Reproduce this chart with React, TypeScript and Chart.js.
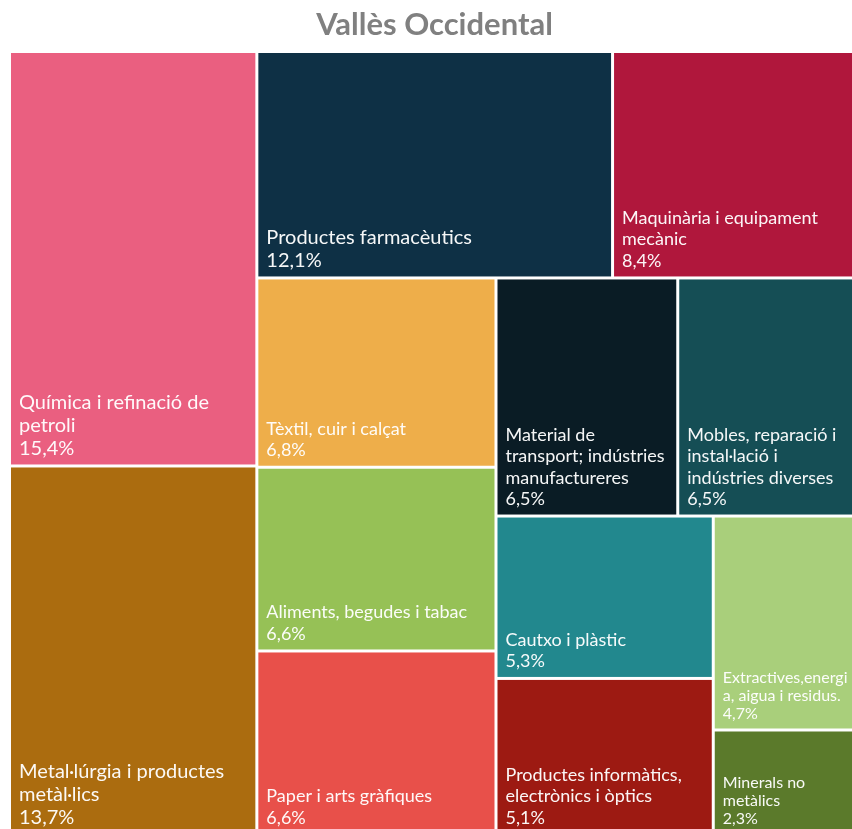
import React, { useEffect, useRef } from 'react';
import { Chart, registerables } from 'chart.js';

Chart.register(...registerables);

const chartTitle = 'Vallès Occidental';

const categories = [
  'Química i refinació de petroli',
  'Metal·lúrgia i productes metàl·lics',
  'Productes farmacèutics',
  'Maquinària i equipament mecànic',
  'Tèxtil, cuir i calçat',
  'Aliments, begudes i tabac',
  'Paper i arts gràfiques',
  'Material de transport; indústries manufactureres',
  'Mobles, reparació i instal·lació i indústries diverses',
  'Cautxo i plàstic',
  'Productes informàtics, electrònics i òptics',
  'Extractives,energia, aigua i residus.',
  'Minerals no metàlics',
];

const shares = [15.4, 13.7, 12.1, 8.4, 6.8, 6.6, 6.6, 6.5, 6.5, 5.3, 5.1, 4.7, 2.3];

const cellColors = [
  '#EA5F80',
  '#AB6C0F',
  '#0E3045',
  '#B0173C',
  '#EEAE4A',
  '#96C156',
  '#E8504A',
  '#0A1C25',
  '#154E55',
  '#22888E',
  '#9D1A12',
  '#A9CF7B',
  '#5B7A2B',
];

type Cell = { x: number; y: number; w: number; h: number };

// Squarified treemap layout with a target-ratio parameter
function squarify(values: number[], W: number, H: number, ratio: number): Cell[] {
  const total = values.reduce((a, b) => a + b, 0);
  const areas = values.map((v) => (v / total) * W * H);
  const out: Cell[] = new Array(values.length);
  let x = 0, y = 0, rw = W, rh = H;
  const worst = (arr: number[], L: number) => {
    const s = arr.reduce((a, b) => a + b, 0);
    const mx = Math.max(...arr), mn = Math.min(...arr);
    const f = L * L * ratio;
    return Math.max((f * mx) / (s * s), (s * s) / (f * mn));
  };
  let i = 0;
  while (i < areas.length) {
    const L = Math.min(rw, rh);
    let j = i + 1;
    let best = worst(areas.slice(i, j), L);
    while (j < areas.length) {
      const wv = worst(areas.slice(i, j + 1), L);
      if (wv <= best) {
        best = wv;
        j++;
      } else break;
    }
    const row = areas.slice(i, j);
    const s = row.reduce((a, b) => a + b, 0);
    if (rw >= rh) {
      const cw = s / rh;
      let yy = y;
      row.forEach((a, k) => {
        const hh = a / cw;
        out[i + k] = { x, y: yy, w: cw, h: hh };
        yy += hh;
      });
      x += cw;
      rw -= cw;
    } else {
      const ch = s / rw;
      let xx = x;
      row.forEach((a, k) => {
        const ww = a / ch;
        out[i + k] = { x: xx, y, w: ww, h: ch };
        xx += ww;
      });
      y += ch;
      rh -= ch;
    }
    i = j;
  }
  return out;
}

function wrapText(ctx: CanvasRenderingContext2D, text: string, maxW: number): string[] {
  const words = text.split(' ');
  const lines: string[] = [];
  let cur = '';
  for (const w of words) {
    const test = cur ? cur + ' ' + w : w;
    if (ctx.measureText(test).width <= maxW) {
      cur = test;
      continue;
    }
    if (cur) {
      lines.push(cur);
      cur = '';
    }
    if (ctx.measureText(w).width <= maxW) {
      cur = w;
    } else {
      let part = '';
      for (const ch of Array.from(w)) {
        if (ctx.measureText(part + ch).width <= maxW) part += ch;
        else {
          lines.push(part);
          part = ch;
        }
      }
      cur = part;
    }
  }
  if (cur) lines.push(cur);
  return lines;
}

const fmt = (v: number) => v.toFixed(1).replace('.', ',') + '%';

const treemapPlugin = {
  id: 'treemapCells',
  afterDatasetsDraw(chart: any) {
    const { ctx, chartArea } = chart;
    const xs = chart.scales.x;
    const ys = chart.scales.y;
    const W = chartArea.right - chartArea.left;
    const H = chartArea.bottom - chartArea.top;
    const cells = squarify(shares, W, H, 0.9);
    const gap = 1.5;
    ctx.save();
    cells.forEach((c, i) => {
      const left = xs.getPixelForValue(c.x / W);
      const right = xs.getPixelForValue((c.x + c.w) / W);
      const top = ys.getPixelForValue(c.y / H);
      const bottom = ys.getPixelForValue((c.y + c.h) / H);
      ctx.fillStyle = cellColors[i];
      ctx.fillRect(left + gap, top + gap, right - left - 2 * gap, bottom - top - 2 * gap);

      const bw = right - left - 2 * gap;
      const bh = bottom - top - 2 * gap;
      let fs = 18;
      let lh = 21.5;
      if (bw < 160) {
        fs = 16;
        lh = 18;
      } else if (bw * bh > 70000) {
        fs = 20;
        lh = 23;
      }
      ctx.font = `${fs}px Lato`;
      ctx.fillStyle = 'rgba(255,255,255,0.96)';
      ctx.textAlign = 'left';
      ctx.textBaseline = 'alphabetic';
      const lines = wrapText(ctx, categories[i], bw - 14);
      lines.push(fmt(shares[i]));
      const tx = left + gap + 8;
      let by = bottom - gap - 9.5;
      for (let k = lines.length - 1; k >= 0; k--) {
        ctx.fillText(lines[k], tx, by);
        by -= lh;
      }
    });
    ctx.restore();
  },
};

export default function App() {
  const ref = useRef<HTMLCanvasElement | null>(null);
  useEffect(() => {
    if (!ref.current) return;
    const chart = new Chart(ref.current, {
      type: 'scatter',
      data: { datasets: [{ data: [], pointRadius: 0 }] },
      options: {
        animation: false,
        responsive: false,
        maintainAspectRatio: false,
        layout: { padding: { left: 9.5, right: 10.5, top: 0, bottom: 10.3 } },
        scales: {
          x: { type: 'linear', min: 0, max: 1, display: false },
          y: { type: 'linear', min: 0, max: 1, reverse: true, display: false },
        },
        plugins: {
          legend: { display: false },
          tooltip: { enabled: false },
          title: {
            display: true,
            text: chartTitle,
            color: '#808080',
            font: { family: 'Lato', size: 31, weight: 'bold', lineHeight: 1.2 },
            padding: { top: 6.5, bottom: 7.8 },
          },
        },
      },
      plugins: [treemapPlugin],
    });
    return () => chart.destroy();
  }, []);
  return (
    <div
      style={{
        position: 'fixed',
        left: 0,
        top: 0,
        width: 852,
        height: 829,
        overflow: 'hidden',
        background: '#fff',
      }}
    >
      <canvas ref={ref} width={870} height={845} style={{ width: 870, height: 845, display: 'block' }} />
    </div>
  );
}
